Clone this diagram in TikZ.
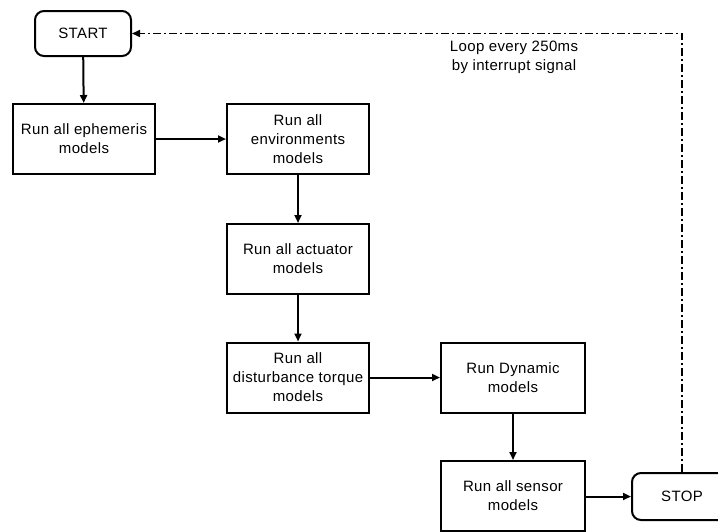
\documentclass[tikz,border=0pt]{standalone}
\usepackage{fontspec}
\setmainfont{Liberation Sans}[LetterSpace=2.5]
\usetikzlibrary{arrows.meta}
\begin{document}
\begin{tikzpicture}[x=1pt,y=-1pt,
  every node/.style={font=\fontsize{15}{19}\selectfont, align=center, inner sep=0pt},
  box/.style={draw, line width=2pt, minimum width=142pt, minimum height=70pt},
  term/.style={draw, line width=2pt, rounded corners=9pt, minimum width=96pt, minimum height=45pt},
  conn/.style={line width=2pt, -{Triangle[length=8pt,width=7pt]}},
  loopline/.style={line width=1.6pt, dash pattern=on 8pt off 3pt on 2pt off 3pt, -{Triangle[length=8pt,width=7pt]}}]
\useasboundingbox (0,0) rectangle (718,531);
\begin{scope}
\clip (0,0) rectangle (718,531);
\node[term] (start) at (83,33.5) {START};
\node[box] (eph) at (84,139) {Run all ephemeris\\models};
\node[box] (env) at (298,139) {Run all\\environments\\models};
\node[box] (act) at (298,259) {Run all actuator\\models};
\node[box] (dist) at (298,377.5) {Run all\\disturbance torque\\models};
\node[box, minimum width=144pt] (dyn) at (513,377.5) {Run Dynamic\\models};
\node[box, minimum width=144pt] (sen) at (513,496) {Run all sensor\\models};
\node[term, minimum width=100pt, minimum height=47pt] (stop) at (682,496.5) {STOP};
\draw[conn] (start) -- (eph);
\draw[conn] (eph) -- (env);
\draw[conn] (env) -- (act);
\draw[conn] (act) -- (dist);
\draw[conn] (dist) -- (dyn);
\draw[conn] (dyn) -- (sen);
\draw[conn] (sen.east |- stop.west) -- (stop.west);
\draw[loopline] (stop.north) |- (start.east);
\node (lbl) at (514,57.5) {Loop every 250ms\\by interrupt signal};
\end{scope}
\end{tikzpicture}
\end{document}
